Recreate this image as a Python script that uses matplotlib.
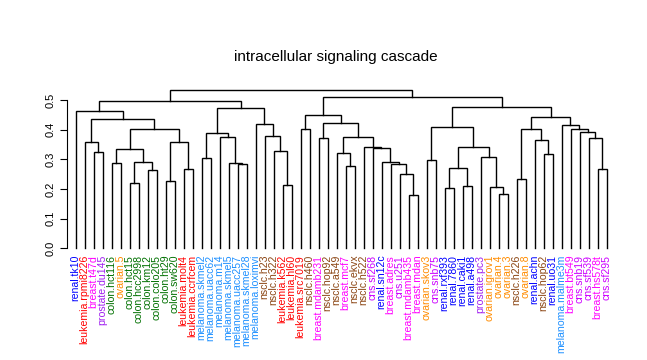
import matplotlib
matplotlib.use("Agg")
import matplotlib.pyplot as plt

plt.rcParams['font.family'] = ['Liberation Sans', 'DejaVu Sans']

title = "intracellular signaling cascade"

leaf_labels = [
    "renal.tk10", "leukemia.rpmi8226", "breast.t47d", "prostate.du145", "colon.hct116",
    "ovarian.5", "colon.hct15", "colon.hcc2998", "colon.km12", "colon.colo205",
    "colon.ht29", "colon.sw620", "leukemia.molt4", "leukemia.ccrfcem", "melanoma.skmel2",
    "melanoma.uacc62", "melanoma.m14", "melanoma.skmel5", "melanoma.uacc257", "melanoma.skmel28",
    "melanoma.loximvi", "nsclc.h23", "nsclc.h322", "leukemia.k562", "leukemia.hl60",
    "leukemia.src7019", "nsclc.h460", "breast.mdamb231", "nsclc.hop92", "nsclc.a549",
    "breast.mcf7", "nsclc.ekvx", "nsclc.h522", "cns.sf268", "renal.sn12c",
    "breast.adres", "cns.u251", "breast.mdamb435", "breast.mdan", "ovarian.skov3",
    "cns.snb75", "renal.rxf393", "renal.7860", "renal.caki1", "renal.a498",
    "prostate.pc3", "ovarian.igrov1", "ovarian.4", "ovarian.3", "nsclc.h226",
    "ovarian.8", "renal.achn", "nsclc.hop62", "renal.uo31", "melanoma.malme3m",
    "breast.bt549", "cns.snb19", "cns.sf539", "breast.hs578t", "cns.sf295",
]

group_colors = {
    "renal": "#0000FF",
    "leukemia": "#FF0000",
    "breast": "#FF00FF",
    "prostate": "#A020F0",
    "colon": "#007000",
    "ovarian": "#FF8C00",
    "melanoma": "#1E90FF",
    "nsclc": "#8B4513",
    "cns": "#CC00FF",
}

# R-hclust style merges: negative = leaf (1-based position), positive = earlier merge
merge_left = [-3, -2, -5, -7, -9, 4, 3, -11, -13, 8,
              7, 2, -1, -15, -19, -18, -17, 14, -24, -23,
              -22, -21, 18, 13, -26, -28, -31, -30, -38, -37,
              -36, -35, -34, -33, 28, 26, 25, -40, -42, -44,
              39, -48, -47, -46, 41, 38, -50, -53, -52, 47,
              -59, -58, -57, -56, -55, 50, 46, 37, 24]
merge_right = [-4, 1, -6, -8, -10, 5, 6, -12, -14, 9,
               10, 11, 12, -16, -20, 15, 16, 17, -25, 19,
               20, 21, 22, 23, -27, -29, -32, 27, -39, 29,
               30, 31, 32, 33, 34, 35, 36, -41, -43, -45,
               40, -49, 42, 43, 44, 45, -51, -54, 48, 49,
               -60, 51, 52, 53, 54, 55, 56, 57, 58]
merge_height = [0.324, 0.357, 0.287, 0.219, 0.263, 0.290, 0.334, 0.226, 0.266, 0.357,
                0.401, 0.435, 0.462, 0.303, 0.283, 0.287, 0.374, 0.388, 0.212, 0.327,
                0.378, 0.419, 0.472, 0.496, 0.401, 0.371, 0.276, 0.320, 0.179, 0.249,
                0.283, 0.292, 0.337, 0.343, 0.374, 0.421, 0.449, 0.297, 0.202, 0.209,
                0.270, 0.182, 0.206, 0.307, 0.341, 0.408, 0.233, 0.317, 0.364, 0.401,
                0.266, 0.371, 0.393, 0.401, 0.415, 0.442, 0.475, 0.510, 0.533]

y_ticks = [0.0, 0.1, 0.2, 0.3, 0.4, 0.5]

W, H = 647, 360
fig = plt.figure(figsize=(W / 100, H / 100), dpi=100)

# axes placement (pixels)
x_left_px, x_right_px = 67.0, 615.7
y_bot_px = 248.3
ylim_top = 0.55
px_per_unit = 296.6
ax = fig.add_axes([x_left_px / W, (H - y_bot_px) / H,
                   (x_right_px - x_left_px) / W, ylim_top * px_per_unit / H])
ax.set_xlim(0.033, 61.0)
ax.set_ylim(0, ylim_top)

n = len(leaf_labels)
node_x = {}
node_h = {}
for i in range(n):
    node_x[-(i + 1)] = i + 1
    node_h[-(i + 1)] = 0.0

for k, (a, b, h) in enumerate(zip(merge_left, merge_right, merge_height)):
    xa, xb = node_x[a], node_x[b]
    ha, hb = node_h[a], node_h[b]
    ax.plot([xa, xa, xb, xb], [ha, h, h, hb], color="black", lw=1.0,
            solid_joinstyle="miter", clip_on=False)
    node_x[k + 1] = (xa + xb) / 2
    node_h[k + 1] = h

for i, lab in enumerate(leaf_labels):
    grp = lab.split(".")[0]
    ax.text(i + 1, -0.022, lab, rotation=90, ha="right", va="center",
            rotation_mode="anchor", fontsize=7.6, color=group_colors[grp])

for s in ["top", "right", "bottom"]:
    ax.spines[s].set_visible(False)
ax.spines["left"].set_bounds(0, 0.5)
ax.spines["left"].set_linewidth(0.8)
ax.set_xticks([])
ax.set_yticks(y_ticks)
ax.set_yticklabels([f"{t:.1f}" for t in y_ticks], rotation=90, va="center", fontsize=8)
ax.tick_params(axis="y", length=5, width=0.8, pad=3)

fig.text(336 / W, 1 - 57 / H, title, ha="center", va="center", fontsize=11)

fig.savefig("out.png", dpi=100)
